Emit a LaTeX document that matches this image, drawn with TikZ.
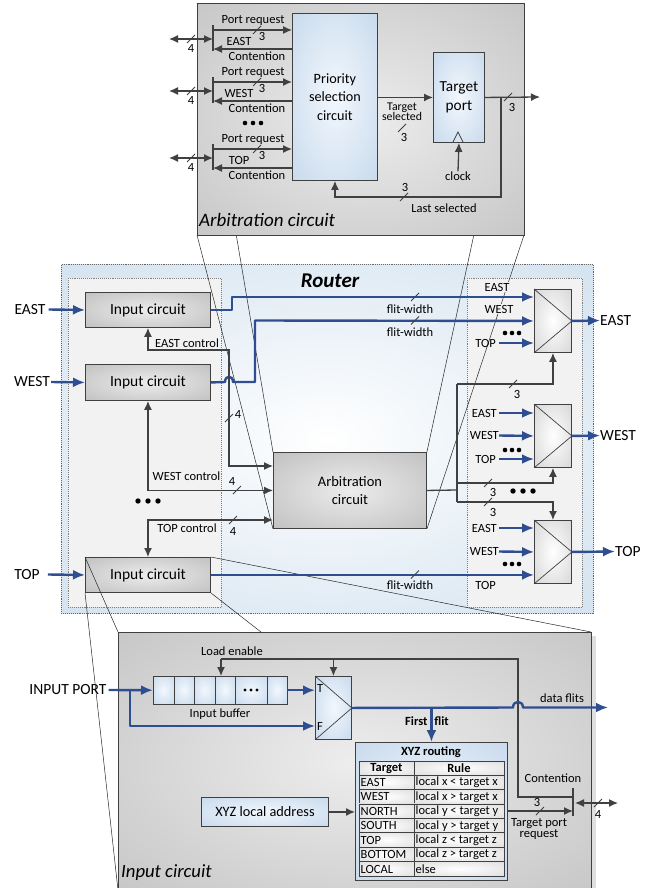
\documentclass[tikz,border=0pt]{standalone}
\usepackage{fontspec}
\setmainfont{Carlito}
\usetikzlibrary{arrows.meta,calc}
\definecolor{bl}{RGB}{47,77,145}
\definecolor{ag}{RGB}{64,64,64}
\definecolor{inF}{RGB}{242,242,242}
\pgfdeclareradialshading{gsoft}{\pgfpoint{0bp}{0bp}}{rgb(0bp)=(0.925,0.925,0.925); rgb(50bp)=(0.69,0.69,0.69)}
\pgfdeclareradialshading{lsoft}{\pgfpoint{0bp}{0bp}}{rgb(0bp)=(0.95,0.97,0.99); rgb(50bp)=(0.72,0.81,0.905)}
\pgfdeclareradialshading{rsoft}{\pgfpoint{0bp}{0bp}}{rgb(0bp)=(1,1,1); rgb(50bp)=(0.76,0.845,0.915)}
\pgfdeclareradialshading{psoft}{\pgfpoint{0bp}{0bp}}{rgb(0bp)=(0.93,0.93,0.93); rgb(50bp)=(0.72,0.72,0.72)}
\pgfdeclareradialshading{msoft}{\pgfpoint{0bp}{0bp}}{rgb(0bp)=(1,1,1); rgb(50bp)=(0.78,0.78,0.78)}
\pgfdeclareradialshading{csoft}{\pgfpoint{0bp}{0bp}}{rgb(0bp)=(1,1,1); rgb(50bp)=(0.82,0.82,0.82)}
\newcommand{\slh}[2]{\draw[sl] (#1,#2) ++(-4,4) -- ++(8,-8);}
\newcommand{\dts}[4]{\foreach \dd in {0,1,2} \fill[black] (#1-#3+\dd*#3,#2) circle (#4);}
\tikzset{
 gl/.style={draw=ag, line width=1.3pt},
 ga/.style={gl, -{Latex[length=9pt,width=8pt]}},
 gb/.style={gl, {Latex[length=9pt,width=8pt]}-{Latex[length=9pt,width=8pt]}},
 bla/.style={draw=bl, line width=2.4pt, line join=round, -{Latex[length=12pt,width=10pt]}},
 zl/.style={draw=black!85, line width=0.5pt},
 sl/.style={draw=ag, line width=0.9pt},
 sm/.style={font=\fontsize{12.5}{13}\selectfont, inner sep=0pt},
 smb/.style={font=\fontsize{12.5}{13}\selectfont\bfseries, inner sep=0pt},
 md/.style={font=\fontsize{14.5}{18}\selectfont, inner sep=0pt, align=center},
 lg/.style={font=\fontsize{15.5}{17}\selectfont, inner sep=0pt},
 box/.style={anchor=north west, inner sep=0pt, draw=ag, line width=0.9pt},
 gbox/.style={box, shade, shading=gsoft},
 lbox/.style={box, shade, shading=lsoft},
 mux/.style={box, shade, shading=msoft, minimum width=37pt, minimum height=63pt},
 lmux/.style={box, shade, shading=lsoft, minimum width=36pt, minimum height=63pt},
 panel/.style={box, draw=gray!50!black, shade, shading=psoft},
 cell/.style={draw=ag, line width=0.7pt, shade, shading=csoft},
 muxlab/.style={sm, fill=inF, inner sep=1pt},
}
\begin{document}
\begin{tikzpicture}[x=1pt,y=-1pt]
\useasboundingbox (0,0) rectangle (649,888);

% ---------------- Router panel ----------------
\node[box, draw=ag!80, densely dotted, line width=0.9pt, shade, shading=rsoft, minimum width=532pt, minimum height=349pt] (router) at (61,264) {};
\node[box, draw=gray, densely dotted, line width=0.6pt, fill=inF, minimum width=153pt, minimum height=329pt] (lpan) at (68,278) {};
\node[box, draw=gray, densely dotted, line width=0.6pt, fill=inF, minimum width=115pt, minimum height=329pt] (rpan) at (467,278) {};
\node[font=\fontsize{21}{22}\selectfont\bfseries\itshape, inner sep=0pt] (rtitle) at (330,281) {Router};

\node[gbox, lg, minimum width=125pt, minimum height=35pt] (inE) at (85,292) {Input circuit};
\node[gbox, lg, minimum width=125pt, minimum height=36pt] (inW) at (85,364) {Input circuit};
\node[gbox, lg, minimum width=125pt, minimum height=35pt] (inT) at (85,557) {Input circuit};
\node[gbox, md, minimum width=153pt, minimum height=76pt] (arb) at (273,452) {Arbitration\\circuit};

\node[mux] (m1) at (534,289) {};
\node[mux] (m2) at (534,404) {};
\node[mux] (m3) at (534,520) {};
\foreach \m in {m1,m2,m3}{\draw[ag, line width=0.7pt] (\m.north west) -- (\m.east) -- (\m.south west);}

% ---------------- zoom lines ----------------
\coordinate (apNW) at (197,3);
\coordinate (apSW) at (197,235);
\coordinate (apNE) at (524,3);
\coordinate (apSE) at (524,235);
\coordinate (bpNW) at (118,632);
\coordinate (bpNE) at (591,632);
\coordinate (bpSW) at (118,890);
\coordinate (bpSE) at (591,890);
\draw[zl] (apNW) -- (arb.north west);
\draw[zl] (apSW) -- (arb.south west);
\draw[zl] (apNE) -- (arb.north east);
\draw[zl] (apSE) -- (arb.south east);
\draw[zl] (inT.north west) -- (bpNW);
\draw[zl] (inT.south west) -- (bpSW);
\draw[zl] (inT.north east) -- (bpNE);
\draw[zl] (inT.south east) -- (bpSE);

% ---------------- Router connections ----------------
\node[lg] (lE) at (30,309.5) {EAST};
\node[lg] (lW) at (32,382) {WEST};
\node[lg] (lT) at (27,574.5) {TOP};
\draw[bla] ([xshift=3pt]lE.east) -- (inE.west);
\draw[bla] ([xshift=1pt]lW.east) -- (inW.west);
\draw[bla] ([xshift=8pt]lT.east) -- (inT.west);

\draw[bla] (inE.east) -| (232,297) -- (m1.west |- 0,297);
\draw[bla] (inW.east) -- (225,382) .. controls (225,375) and (233,375) .. (233,382) -- (255,382) -- (255,320.5) -- (m1.west);
\draw[bla] (inT.east) -- (inT.east -| m3.west);
\foreach \y in {297,320.5,574.5}{\slh{415}{\y}}
\node[sm] (fw1) at (410,309) {flit-width};
\node[sm] (fw2) at (410,332) {flit-width};
\node[sm] (fw3) at (410,585) {flit-width};

% mux inputs
\draw[bla] (499,343) -- (m1.west |- 0,343);
\draw[bla] (499,413) -- (m2.west |- 0,413);
\draw[bla] (499,435.5) -- (m2.west);
\draw[bla] (499,459) -- (m2.west |- 0,459);
\draw[bla] (499,528) -- (m3.west |- 0,528);
\draw[bla] (499,551.5) -- (m3.west);
\node[muxlab] (a1) at (497,287) {EAST};
\node[muxlab] (b1) at (499,309) {WEST};
\node[sm, anchor=east] (c1) at (496,343) {TOP};
\node[sm, anchor=east] (a2) at (497,413) {EAST};
\node[sm, anchor=east] (b2) at (499,435.5) {WEST};
\node[sm, anchor=east] (c2) at (496,459) {TOP};
\node[sm, anchor=east] (a3) at (497,528) {EAST};
\node[sm, anchor=east] (b3) at (499,551.5) {WEST};
\node[sm, anchor=east] (c3) at (496,585) {TOP};
\dts{512}{333}{7}{2.3pt}
\dts{512}{450}{7}{2.3pt}
\dts{512}{564}{7}{2.3pt}

% mux outputs
\node[lg, anchor=west] (oE) at (600,320.5) {EAST};
\node[lg, anchor=west] (oW) at (600,435.5) {WEST};
\node[lg, anchor=west] (oT) at (615,551.5) {TOP};
\draw[bla] (m1.east) -- (oE.west);
\draw[bla] (m2.east) -- (oW.west);
\draw[bla] (m3.east) -- (oT.west);

% select lines
\coordinate (sj) at (457,490);
\coordinate (sjT) at (457,384);
\coordinate (sjB) at (457,502);
\coordinate (sjM) at (457,483);
\draw[gl] (arb.east) -- (sj);
\draw[gl] (sjT) -- (sjB);
\draw[ga] (sjT) -| (m1.south);
\draw[ga] (sjM) -| (m2.south);
\draw[ga] (sjB) -| (m3.north);
\slh{513}{384} \node[sm] at (517,394) {3};
\slh{488}{483} \node[sm] at (493,492) {3};
\slh{488}{502} \node[sm] at (493,512) {3};
\dts{523}{491}{10}{2.7pt}

% control lines
\coordinate (ce1) at (229,350);
\draw[gb] (inE.south) |- (ce1) -- (229,466) -- (arb.west |- 0,466);
\draw[gb] (inW.south) |- (arb.west);
\draw[gb] (arb.west |- 0,520) -| (inT.north);
\node[sm] (ec) at (187,343) {EAST control};
\node[sm] (wc) at (186.5,476) {WEST control};
\node[sm] (tc) at (187,528) {TOP control};
\slh{229}{418} \node[sm] at (238,414) {4};
\slh{237}{490} \node[sm] at (232,481) {4};
\slh{233}{520} \node[sm] at (233,531) {4};
\dts{148}{501}{10}{2.7pt}

% ---------------- Arbitration panel (top) ----------------
\node[panel, minimum width=327pt, minimum height=232pt] (ap) at (apNW) {};
\node[font=\fontsize{19}{20}\selectfont\itshape, inner sep=0pt, anchor=west] (aptitle) at (199,220) {Arbitration circuit};
\node[lbox, md, font=\fontsize{14.2}{18.5}\selectfont, minimum width=85pt, minimum height=167pt] (psc) at (292,13) {Priority\\selection\\circuit};
\node[lbox, md, font=\fontsize{15.3}{19}\selectfont, minimum width=51pt, minimum height=90pt] (tp) at (433,52) {Target\\port};
\draw[ag, line width=0.7pt] (453,142) -- (458,132) -- (463,142);

\foreach \y/\n in {30/EAST,82/WEST,149/TOP}{
  \draw[gl] (213,\y-5) -- (213,\y+21);
  \draw[ga] (213,\y) -- (psc.west |- 0,\y);
  \draw[ga] (psc.west |- 0,\y+19) -- (213,\y+19);
  \draw[gb] (169,\y+9) -- (213,\y+9);
  \node[sm] at (253,\y-10) {Port request};
  \node[sm] at (239,\y+11) {\n};
  \node[sm] at (257,\y+26) {Contention};
  \node[sm] at (262,\y+6) {3};
  \node[sm] at (191,\y+18) {4};
  \slh{257}{\y}
  \slh{191}{\y+9}
}
\dts{253}{123}{8}{2.3pt}

\draw[ga] (psc.east |- tp.west) -- (tp.west);
\node[font=\fontsize{11.8}{10.5}\selectfont, align=center, inner sep=0pt] (tsl) at (402,112) {Target\\selected};
\slh{402}{128} \node[sm] at (404,137) {3};

\node[sm] (clk) at (458,176) {clock};
\draw[ga] (clk.north) -- (tp.south);

\coordinate (tpo) at (501,97);
\coordinate (outA) at (540,97);
\draw[ga] (tp.east) -- (outA);
\slh{508}{97} \node[sm] at (512,107) {3};
\draw[ga] (tpo) -- (501,197) -| (psc.south);
\slh{404}{197} \node[sm] at (405,187) {3};
\node[sm] (lsel) at (444,208) {Last selected};

% ---------------- Input circuit panel (bottom) ----------------
\fill[gray!25] (591,636) rectangle (596,890);
\node[panel, minimum width=473pt, minimum height=258pt] (bp) at (bpNW) {};
\node[font=\fontsize{18.7}{20}\selectfont\itshape, inner sep=0pt, anchor=west] (bptitle) at (121,873) {Input circuit};

\node[lg] (ip) at (68,690) {INPUT PORT};
\foreach \a/\b in {153/174,174/194,194/215,215/235,235/267,267/287}{
  \draw[ag, line width=0.8pt, shade, shading=lsoft] (\a,676) rectangle (\b,704);
}
\node[anchor=north west, inner sep=0pt, minimum width=134pt, minimum height=28pt] (buf) at (153,676) {};
\dts{251}{690}{6}{1.6pt}
\node[sm] (ibl) at (220,714) {Input buffer};

\node[lmux] (mb) at (315,676) {};
\draw[ag, line width=0.7pt] (mb.north west) -- (mb.east) -- (mb.south west);
\node[sm, anchor=west] (Tl) at (317,688) {T};
\node[sm, anchor=west] (Fl) at (317,726) {F};

\coordinate (br) at (130,690);
\draw[bla] ([xshift=2pt]ip.east) -- (buf.west);
\draw[bla] (br) |- (mb.west |- 0,726);
\draw[bla] (buf.east) -- (mb.west |- buf.east);

\node[lbox, minimum width=152pt, minimum height=138pt] (xyz) at (355,742) {};
\node[smb] (xyzt) at (431,752) {XYZ routing};

% load enable
\coordinate (le) at (221,659);
\coordinate (barT) at (573,788);
\coordinate (barB) at (573,816);
\draw[ga] (le) -- (buf.north -| le);
\draw[ga] (mb.north |- le) -- (mb.north);
\draw[gl] (le) -| (518,797) -- (barT |- 0,797);
\draw[gl] (barT) -- (barB);
\node[sm] (lel) at (232,651) {Load enable};
\node[sm] (ctl) at (553,778) {Contention};

% data line
\coordinate (dout) at (608,707.5);
\draw[bla] (mb.east) -- (513,707.5) .. controls (513,700) and (523,700) .. (523,707.5) -- (dout);
\node[sm] (dfl) at (562,698) {data flits};
\draw[bla] (xyz.north |- mb.east) -- (xyz.north);
\node[smb] (ffl) at (427,721) {First\hspace{7pt}flit};

% table
\draw[cell] (359,761) rectangle (414,775);
\draw[cell] (414,761) rectangle (504,775);
\node[smb] (th1) at (386.5,768) {Target};
\node[smb] (th2) at (459,768) {Rule};
\foreach \t/\r [count=\i from 0] in {EAST/{local x < target x},WEST/{local x > target x},NORTH/{local y < target y},SOUTH/{local y > target y},TOP/{local z < target z},BOTTOM/{local z > target z},LOCAL/else}{
  \pgfmathsetmacro\ya{775+14.43*\i}
  \pgfmathsetmacro\yb{\ya+14.43}
  \pgfmathsetmacro\ym{\ya+7.5}
  \draw[cell] (359,\ya) rectangle (414,\yb);
  \draw[cell] (414,\ya) rectangle (504,\yb);
  \node[sm, anchor=west] at (360.5,\ym) {\t};
  \node[sm, anchor=west] at (415.5,\ym) {\r};
}

\node[lbox, font=\fontsize{14.3}{16}\selectfont, minimum width=127pt, minimum height=29pt] (loc) at (201,797) {XYZ local address};
\draw[ga] (loc.east) -- (loc.east -| xyz.west);
\draw[ga] (xyz.east |- 0,811) -- (barT |- 0,811);
\slh{540}{811} \node[sm] at (537,802) {3};
\node[sm, align=center, font=\fontsize{12.5}{11}\selectfont] (tpr) at (539,829) {Target port\\request};
\coordinate (bo) at (618,803);
\draw[gb] (575,803) -- (bo);
\slh{598}{803} \node[sm] at (598,814) {4};
\end{tikzpicture}
\end{document}
